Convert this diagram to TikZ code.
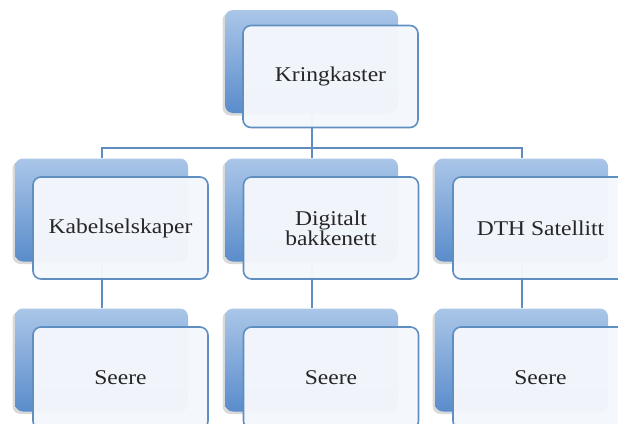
\documentclass[tikz,border=0pt]{standalone}
\usepackage{fontspec}
\setmainfont[FakeStretch=1.12]{Liberation Serif}
\usetikzlibrary{shadows}
\definecolor{backtop}{HTML}{AAC6E8}
\definecolor{backbot}{HTML}{5A8CCB}
\definecolor{frontline}{HTML}{5F8EC1}
\definecolor{frontfill}{HTML}{F4F7FC}
\definecolor{conn}{HTML}{5F8BBE}
\definecolor{txt}{HTML}{262626}
\tikzset{
  backbox/.style={rectangle, rounded corners=8pt, minimum width=173pt, minimum height=103pt,
    top color=backtop, bottom color=backbot, draw=none,
    drop shadow={shadow xshift=-2.5pt, shadow yshift=-2.5pt, opacity=0.15, fill=black}},
  frontbox/.style={rectangle, rounded corners=8pt, minimum width=175pt, minimum height=102pt,
    draw=frontline, line width=1.6pt, fill=frontfill, fill opacity=0.975, text opacity=1,
    text=txt, font=\fontsize{21}{20}\selectfont, align=center},
  connector/.style={draw=conn, line width=2pt}
}
\begin{document}
\begin{tikzpicture}[x=1pt,y=-1pt]
\useasboundingbox (0,0) rectangle (618,423);
\clip (0,0) rectangle (618,423);
% back boxes (positions of centers)
\node[backbox] (kb) at (311.5,61.5) {};
\node[backbox] (ab) at (101.5,210) {};
\node[backbox] (bb) at (311.5,210) {};
\node[backbox] (cb) at (521.5,210) {};
\node[backbox] (sab) at (101.5,360) {};
\node[backbox] (sbb) at (311.5,360) {};
\node[backbox] (scb) at (521.5,360) {};
% connectors
\coordinate (junc) at (311.5,148);
\draw[connector] (kb.south) -- (junc);
\draw[connector] (ab.north) |- (junc) -| (cb.north);
\draw[connector] (junc) -- (bb.north);
\draw[connector] (ab.south) -- (sab.north);
\draw[connector] (bb.south) -- (sbb.north);
\draw[connector] (cb.south) -- (scb.north);
% front boxes
\node[frontbox] (k) at (330.5,76.5) {Kringkaster};
\node[frontbox] (a) at (120.5,228) {Kabelselskaper};
\node[frontbox] (b) at (331,228) {Digitalt\\bakkenett};
\node[frontbox] (c) at (540.5,228) {DTH Satellitt};
\node[frontbox] (sa) at (120.5,378) {Seere};
\node[frontbox] (sb) at (331,378) {Seere};
\node[frontbox] (sc) at (540.5,378) {Seere};
\end{tikzpicture}
\end{document}
